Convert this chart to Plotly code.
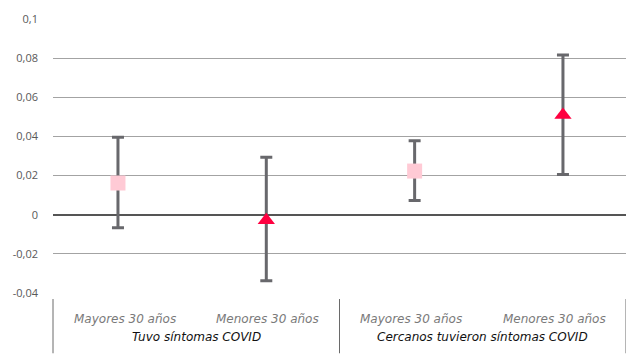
import plotly.graph_objects as go

# ---- data ----
groups = ["Tuvo síntomas COVID", "Cercanos tuvieron síntomas COVID"]
subgroups = ["Mayores 30 años", "Menores 30 años"]

mayores_est = [0.0162, 0.0223]
mayores_low = [-0.0066, 0.0073]
mayores_high = [0.0396, 0.0378]

menores_est = [-0.0028, 0.0510]
menores_low = [-0.0338, 0.0206]
menores_high = [0.0294, 0.0816]

tick_vals = [-0.04, -0.02, 0, 0.02, 0.04, 0.06, 0.08, 0.1]
tick_text = ["-0,04", "-0,02", "0", "0,02", "0,04", "0,06", "0,08", "0,1"]

# ---- positions (category index) ----
n_sub = len(subgroups)
x_may = [g * n_sub + 0 for g in range(len(groups))]
x_men = [g * n_sub + 1 for g in range(len(groups))]

err_color = "#68686c"

fig = go.Figure()
fig.add_trace(go.Scatter(
    x=x_may, y=mayores_est, mode="markers",
    marker=dict(symbol="square", size=15, color="#ffcad5", line=dict(width=0)),
    error_y=dict(type="data", symmetric=False,
                 array=[h - e for h, e in zip(mayores_high, mayores_est)],
                 arrayminus=[e - l for e, l in zip(mayores_est, mayores_low)],
                 color=err_color, thickness=3, width=6),
    showlegend=False, cliponaxis=False, hoverinfo="skip",
))
fig.add_trace(go.Scatter(
    x=x_men, y=menores_est, mode="markers",
    marker=dict(symbol="triangle-up", size=15, color="#ff0040", line=dict(width=0)),
    error_y=dict(type="data", symmetric=False,
                 array=[h - e for h, e in zip(menores_high, menores_est)],
                 arrayminus=[e - l for e, l in zip(menores_est, menores_low)],
                 color=err_color, thickness=3, width=6),
    showlegend=False, cliponaxis=False, hoverinfo="skip",
))

lab_font = "DejaVu Sans"
n_cat = len(groups) * n_sub
annotations = []
for g, gname in enumerate(groups):
    for s, sname in enumerate(subgroups):
        i = g * n_sub + s
        annotations.append(dict(
            x=(i + 0.5) / n_cat, xref="paper", y=-0.095, yref="paper",
            text=sname, showarrow=False, xanchor="center", yanchor="middle",
            font=dict(family=lab_font, size=12, color="#7a7a7a", style="italic"),
        ))
    annotations.append(dict(
        x=(g + 0.5) / len(groups), xref="paper", y=-0.16, yref="paper",
        text=gname, showarrow=False, xanchor="center", yanchor="middle",
        font=dict(family=lab_font, size=12, color="#111111", style="italic"),
    ))

shapes = []
for k in range(len(groups) + 1):
    shapes.append(dict(
        type="line", xref="paper", yref="paper",
        x0=k / len(groups), x1=k / len(groups), y0=-0.022, y1=-0.22,
        line=dict(color="#6a6a6a", width=1),
    ))

fig.update_layout(
    width=626, height=356,
    margin=dict(l=53, r=0, t=19, b=63, autoexpand=False),
    paper_bgcolor="white", plot_bgcolor="white",
    xaxis=dict(range=[-0.438, 3.425], showgrid=False, zeroline=False,
               showticklabels=False, showline=False, fixedrange=True),
    yaxis=dict(range=[-0.04, 0.1], tickvals=tick_vals, ticktext=tick_text,
               showgrid=True, gridcolor="#a3a3a3", gridwidth=1,
               zeroline=True, zerolinecolor="#555555", zerolinewidth=2,
               showline=False, ticks="", ticklabelstandoff=14, fixedrange=True,
               tickfont=dict(family="Open Sans", size=11, color="#595959")),
    annotations=annotations,
    shapes=shapes,
    hovermode=False,
)

fig.write_html("out.html", config={"displayModeBar": False},
               post_script="document.body.style.margin='0';")
